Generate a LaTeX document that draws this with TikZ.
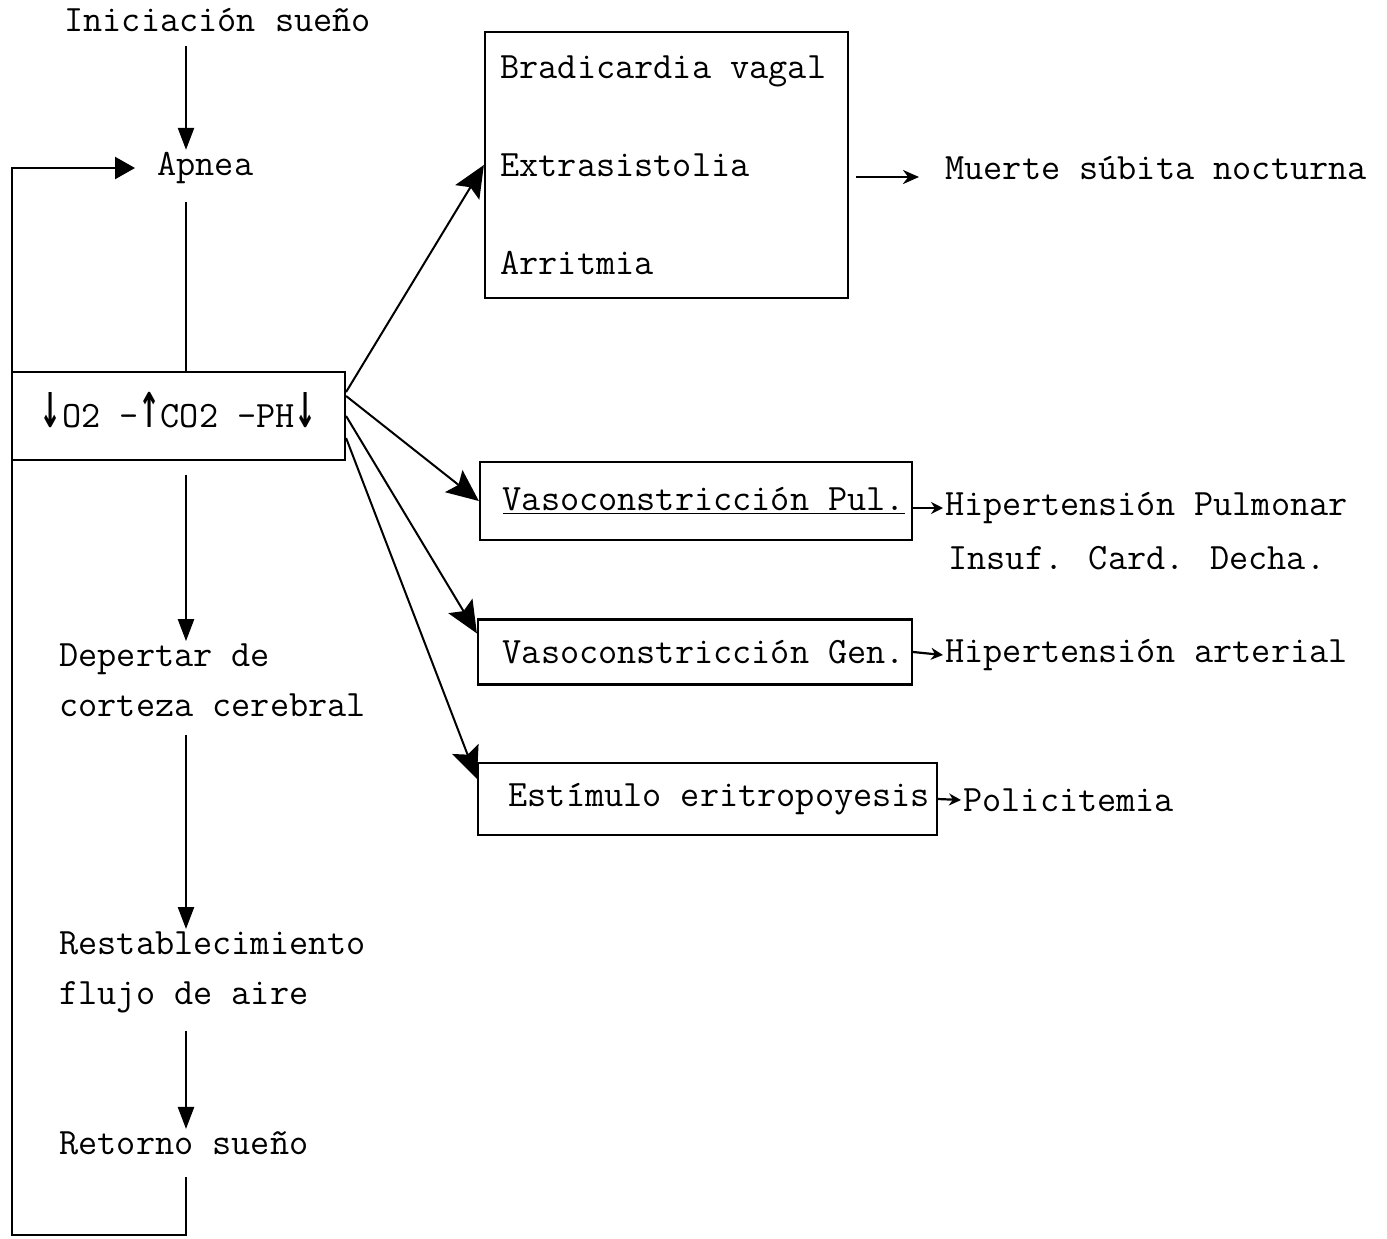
\documentclass[tikz,border=0pt]{standalone}
\usepackage{fontspec}
\usepackage{graphicx}
\newfontfamily\arrowfont{DejaVu Sans}
\usepackage{tikz}
\usetikzlibrary{arrows.meta, positioning, calc}

\newcommand{\dnarrow}{\smash{\scalebox{0.55}[1]{\arrowfont\bfseries\fontsize{24}{24}\selectfont ↓}}}
\newcommand{\uparrowsym}{\smash{\scalebox{0.55}[1]{\arrowfont\bfseries\fontsize{24}{24}\selectfont ↑}}}

\begin{document}
\begin{tikzpicture}[
  x=0.5pt, y=-0.5pt,
  every node/.style={font=\ttfamily\fontsize{18.6}{25}\selectfont},
  txt/.style={inner sep=1pt, align=left, anchor=west},
  effbox/.style={draw, line width=1.1pt, inner xsep=3.5pt, inner ysep=0pt, align=flush right},
  chain/.style={-{Triangle[length=11pt, width=8pt]}, line width=1.2pt},
  bigarr/.style={-{Stealth[length=16pt, width=14pt, inset=3pt]}, line width=1pt},
  smallarr/.style={-{Stealth[length=6pt, width=6pt]}, line width=1.1pt}
]
  \useasboundingbox (0,0) rectangle (1387,1238);

  % Cycle
  \node[txt] (init) at (62,20) {Iniciación sueño};
  \node[txt] (apnea) at (155,168) {Apnea};
  \node[draw, line width=1.1pt, minimum width=166.5pt, minimum height=44pt, inner sep=0pt] (gases) at (178.5,416)
    {\dnarrow O2 -\uparrowsym CO2 -PH\dnarrow};
  \node[txt] (depertar) at (57,680) {Depertar de\\corteza cerebral};
  \node[txt] (restab) at (57,972) {Restablecimiento\\flujo de aire};
  \node[txt] (retorno) at (57,1143) {Retorno sueño};

  \coordinate (spine) at (186,0);
  \coordinate (corner) at (12,1235);

  \draw[chain, shorten <=6pt] (init.south -| spine) -- (apnea.north -| spine);
  \draw[line width=1.2pt, shorten <=8pt] (apnea.south -| spine) -- (gases.north -| spine);
  \draw[chain, shorten <=7pt] (gases.south -| spine) -- (depertar.north -| spine);
  \draw[chain, shorten <=8pt] (depertar.south -| spine) -- (restab.north -| spine);
  \draw[chain, shorten <=8pt] (restab.south -| spine) -- (retorno.north -| spine);
  \draw[-{Triangle[length=10pt, width=11pt]}, line width=1.2pt, shorten <=10pt, shorten >=10pt]
    (retorno.south -| spine) |- (corner) |- (apnea.west);

  % Effects
  \node[draw, line width=1.1pt, text width=166pt, inner xsep=7.75pt, minimum height=133pt, align=flush left,
    font=\ttfamily\fontsize{18.6}{49}\selectfont] (heart) at (666.5,165) {Bradicardia vagal\\Extrasistolia\\Arritmia};
  \node[effbox, text width=209pt, minimum height=39pt] (vpul) at (696,501) {\underline{Vasoconstricción Pul.}};
  \node[effbox, text width=210pt, minimum height=32.5pt] (vgen) at (695,652) {Vasoconstricción Gen.};
  \node[effbox, text width=222.5pt, minimum height=36pt] (estim) at (707.5,799) {Estímulo eritropoyesis};

  \draw[bigarr] ([yshift=12pt]gases.east) -- (heart.west);
  \draw[bigarr] ([yshift=10pt]gases.east) -- (vpul.west);
  \draw[bigarr] (gases.east) -- ([yshift=-7.5pt]vgen.north west);
  \draw[bigarr] ([yshift=-11pt]gases.east) -- ([yshift=-8.5pt]estim.north west);

  % Consequences
  \node[txt] (muerte) at (943,168) {Muerte súbita nocturna};
  \node[txt] (hpul) at (943,508) {Hipertensión Pulmonar};
  \node[txt] (insuf) at (946,558) {Insuf. Card. Decha.};
  \node[txt] (harter) at (943,655) {Hipertensión arterial};
  \node[txt] (polic) at (961,800) {Policitemia};

  \draw[-{Stealth[length=8pt, width=7pt]}, line width=1.3pt, shorten <=3.5pt, shorten >=12pt]
    ([yshift=-6pt]heart.east) -- ([yshift=-6pt]heart.east -| muerte.west);
  \draw[smallarr] (vpul.east |- hpul) -- (hpul.west);
  \draw[smallarr] (vgen.east) -- (harter.west);
  \draw[smallarr] (estim.east) -- (polic.west);
\end{tikzpicture}
\end{document}
